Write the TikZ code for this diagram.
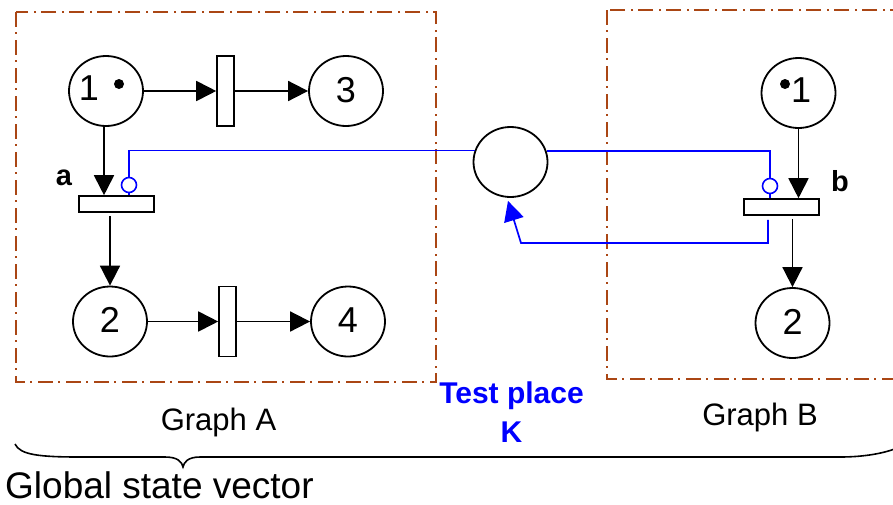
\documentclass[tikz,border=0pt]{standalone}
\usepackage{fontspec}
\setmainfont{Liberation Sans}
\usetikzlibrary{shapes.geometric,arrows.meta}
\definecolor{framebrown}{RGB}{170,70,20}
\definecolor{netblue}{RGB}{0,0,255}
\tikzset{
  place/.style={draw, ellipse, minimum width=74pt, minimum height=70pt, inner sep=0pt, line width=1.8pt, font=\fontsize{36}{40}\selectfont},
  vtrans/.style={draw, rectangle, minimum width=17pt, minimum height=70pt, inner sep=0pt, line width=1.6pt},
  htrans/.style={draw, rectangle, minimum width=75pt, minimum height=16pt, inner sep=0pt, line width=1.6pt},
  inhib/.style={draw=netblue, circle, minimum size=15pt, inner sep=0pt, line width=1.6pt},
  arr/.style={line width=1.8pt, -{Triangle[length=20pt,width=20pt]}},
  bluearc/.style={draw=netblue, line width=1.7pt},
  frame/.style={draw=framebrown, line width=1.5pt, dash pattern=on 15pt off 5pt on 2pt off 6pt},
  num/.style={font=\fontsize{36}{40}\selectfont, inner sep=0pt},
  lbl/.style={font=\fontsize{29}{32}\selectfont\bfseries, inner sep=0pt},
  glabel/.style={font=\fontsize{31}{36}\selectfont, inner sep=0pt, anchor=base},
}
\begin{document}
\begin{tikzpicture}[x=1pt,y=-1pt]
\useasboundingbox (0,0) rectangle (893,504);
\clip (0,0) rectangle (893,504);
\fill[white] (0,0) rectangle (893,504);

% frames
\draw[frame] (16,12) rectangle (436,382);
\draw[frame] (607,10) rectangle (905,379);

% Graph A
\node[place] (A1) at (106,91) {};
\node[num] (A1n) at (89,88) {1};
\fill ([xshift=13pt,yshift=7pt]A1.center) circle (5pt);
\node[vtrans] (t1) at (225.5,91) {};
\node[place] (A3) at (346,91) {\raisebox{3pt}{3}};
\node[htrans] (ta) at (116.5,204) {};
\node[place] (A2) at (110,321.5) {\raisebox{3pt}{2}};
\node[vtrans] (t2) at (227.5,321.5) {};
\node[place] (A4) at (348,321.5) {\raisebox{3pt}{4}};
\node[lbl] (la) at (64,178) {a};

\draw[arr] (A1.east) -- (t1.west);
\draw[arr] (t1.east) -- (A3.west);
\draw[arr] ([xshift=-2pt]A1.south) -- ([xshift=-2pt]A1.south |- ta.north);
\draw[arr] ([yshift=-3pt]ta.south -| A2.north) -- (A2.north);
\draw[arr] (A2.east) -- (t2.west);
\draw[arr] (t2.east) -- (A4.west);

% Test place
\node[place] (K) at (510.5,162) {};

% Graph B
\node[place] (B1) at (798.5,93) {};
\node[num] (B1n) at (801,90) {1};
\fill ([xshift=-13.5pt,yshift=9pt]B1.center) circle (5pt);
\node[htrans] (tb) at (781.5,207) {};
\node[place] (B2) at (792.5,323) {\raisebox{3pt}{2}};
\node[lbl] (lb) at (840,181) {b};

\draw[arr] (B1.south) -- (B1.south |- tb.north);
\draw[arr] ([yshift=-3pt]tb.south -| B2.north) -- (B2.north);

% inhibitor arcs
\node[inhib] (ia) at (129,185) {};
\node[inhib] (ib) at (770,186) {};
\draw[bluearc] (ia.south) -- (ia.south |- ta.north);
\draw[bluearc] (ia.north) |- (K.162.6);
\draw[bluearc] (K.17.4) -| (ib.north);
\draw[bluearc] (ib.south) -- (ib.south |- tb.north);

% return arc
\coordinate (kc) at (521,243);
\draw[bluearc, -{Triangle[length=20pt,width=20pt]}]
  ([xshift=-2pt,yshift=-4pt]ib.south |- tb.south) |- (kc) -- ([xshift=-2.5pt,yshift=-3pt]K.south);

% labels
\node[glabel] (gA) at (218.5,430) {Graph A};
\node[glabel] (gB) at (760,425) {Graph B};
\node[font=\fontsize{30}{39}\selectfont\bfseries, text=netblue, align=center, inner sep=0pt, anchor=base] (tp) at (511.5,442) {Test place\\K};
\node[font=\fontsize{37}{42}\selectfont, inner sep=0pt, anchor=base west] (gsv) at (5,498) {Global state vector};

% brace
\draw[line width=1.6pt] (15,444) .. controls (20,455) and (40,457) .. (80,457)
  -- (165,457) .. controls (178,457) and (182,462) .. (183,467)
  .. controls (184,462) and (188,457) .. (200,457)
  -- (840,457) .. controls (865,457) and (885,453) .. (897,448);
\end{tikzpicture}
\end{document}
